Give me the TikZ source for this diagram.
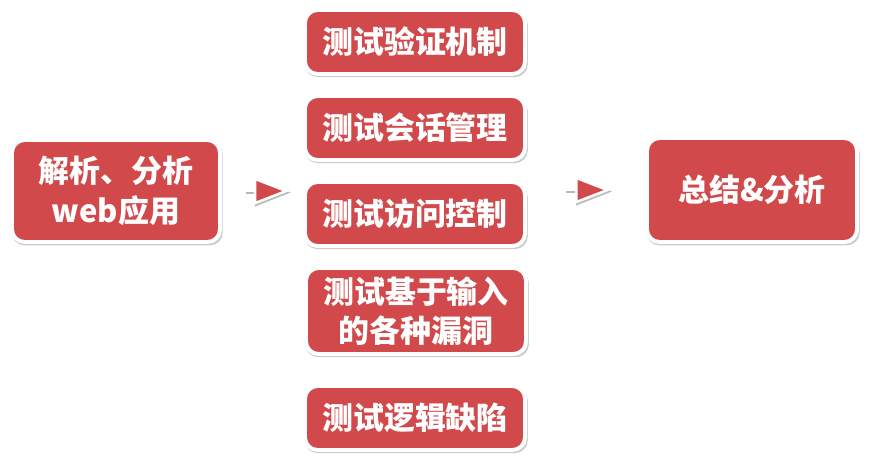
\documentclass[tikz,border=0pt]{standalone}
\usepackage{fontspec}
\setmainfont{Noto Sans CJK SC}[BoldFont={Noto Sans CJK SC Black}]
\usetikzlibrary{arrows.meta,positioning,shadows}
\definecolor{testred}{HTML}{D2494C}
\definecolor{testshade}{HTML}{9A9A9A}
\tikzset{
  stepbox/.style={
    rectangle,
    rounded corners=9pt,
    draw=white,
    line width=2.8pt,
    fill=testred,
    text=white,
    align=center,
    inner sep=2pt,
    minimum width=5.5cm,
    minimum height=1.6cm,
    font=\bfseries\fontsize{22}{28}\selectfont,
    drop shadow={opacity=0.4, shadow scale=1.015, shadow xshift=0.8pt, shadow yshift=-1.8pt}
  },
  bigbox/.style={stepbox, minimum width=5.2cm, minimum height=2.55cm},
  flowarrow/.style={
    -{Triangle[length=0.9cm, width=0.68cm, fill=testred]},
    draw=white, line width=1.8pt,
    preaction={draw=testshade!70, line width=2.6pt,
      transform canvas={shift={(0.8pt,-1pt)}}}
  }
}

\begin{document}
\begin{tikzpicture}[x=0.025cm, y=-0.025cm]
\useasboundingbox (0,0) rectangle (889,456);
\node[bigbox] (parse) at (116,191) {解析、分析\\web应用};
\node[stepbox] (auth) at (415,42) {测试验证机制};
\node[stepbox] (session) at (415,128) {测试会话管理};
\node[stepbox] (access) at (415,214) {测试访问控制};
\node[stepbox, minimum height=2.15cm] (input) at (416,311) {测试基于输入\\的各种漏洞};
\node[stepbox] (logic) at (415,418) {测试逻辑缺陷};
\node[bigbox, minimum width=5.25cm, minimum height=2.6cm] (summary) at (752,190) {总结\&分析};
\draw[flowarrow, shorten <=0.575cm, shorten >=0.33cm] (parse.east) -- (parse.east -| auth.west);
\draw[flowarrow, shorten <=0.95cm, shorten >=0.85cm] (summary.west -| auth.east) -- (summary.west);
\end{tikzpicture}
\end{document}
